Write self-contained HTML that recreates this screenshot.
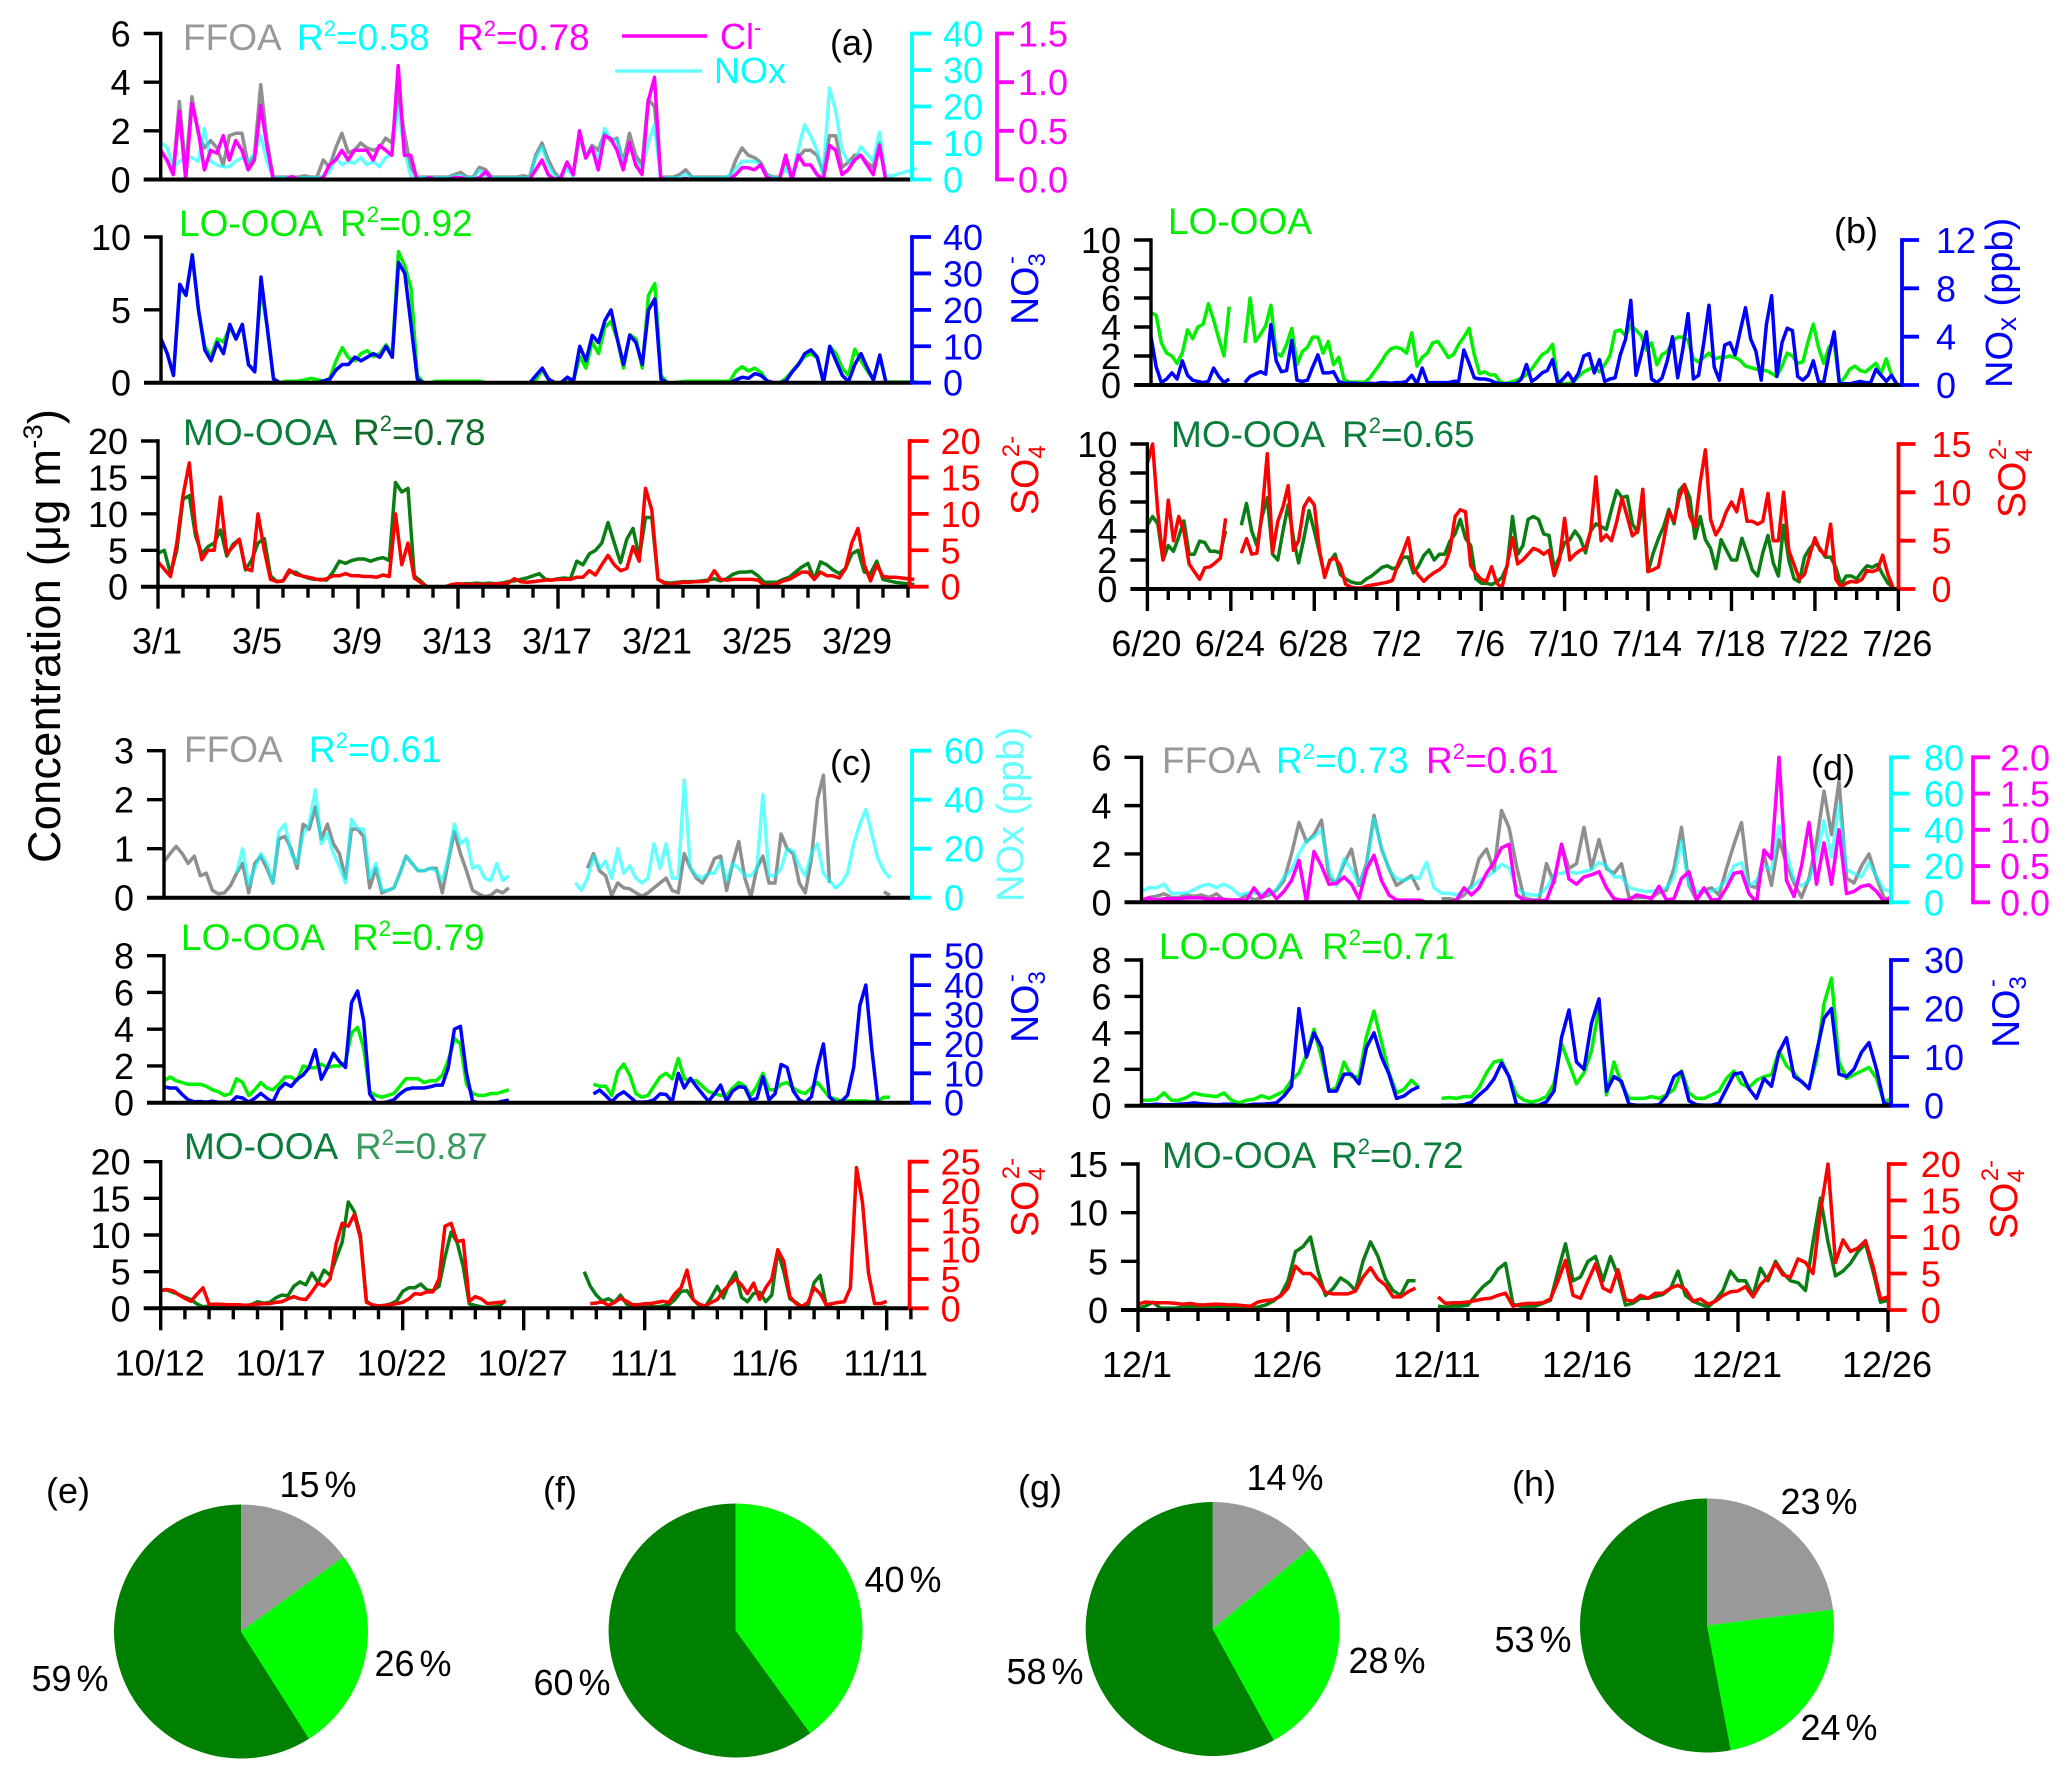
<!DOCTYPE html>
<html lang="en">
<head>
<meta charset="utf-8">
<title>Concentration time series and pie charts</title>
<style>
html,body{margin:0;padding:0;background:#fff}
svg{display:block;font-family:"Liberation Sans",Arial,sans-serif}
text{font-family:"Liberation Sans",Arial,sans-serif}
</style>
</head>
<body>
<svg id="figure" xmlns="http://www.w3.org/2000/svg" width="2067" height="1779" viewBox="0 0 2067 1779">
<rect width="2067" height="1779" fill="#fff"/>
<g id="plots"></g>
<g id="pies"></g>

<text transform="translate(60,863) rotate(-90)" font-size="45" letter-spacing=".3" fill="#000">Concentration (μg m<tspan dy="-18" font-size="27">-3</tspan><tspan dy="18">)</tspan></text>

<g font-size="37">
<text x="183" y="50" fill="#999">FFOA</text>
<text x="297" y="50" fill="#00ffff">R<tspan dy="-14" font-size="22">2</tspan><tspan dy="14">=0.58</tspan></text>
<text x="457" y="50" fill="#ff00ff">R<tspan dy="-14" font-size="22">2</tspan><tspan dy="14">=0.78</tspan></text>
<line x1="622" y1="36" x2="707" y2="36" stroke="#ff00ff" stroke-width="3.4"/>
<text x="720" y="49" fill="#ff00ff" font-size="36">Cl<tspan dy="-14" font-size="22">-</tspan></text>
<line x1="615" y1="71" x2="702" y2="71" stroke="#66ffff" stroke-width="3.4"/>
<text x="714" y="83" fill="#00ffff" font-size="36">NOx</text>
<text x="830" y="55" fill="#000" font-size="36">(a)</text>
<text x="179" y="236" fill="#00ee00">LO-OOA</text>
<text x="340" y="236" fill="#00ee00">R<tspan dy="-14" font-size="22">2</tspan><tspan dy="14">=0.92</tspan></text>
<text x="183" y="445" fill="#0a7d3c">MO-OOA</text>
<text x="353" y="445" fill="#0f6b2a">R<tspan dy="-14" font-size="22">2</tspan><tspan dy="14">=0.78</tspan></text>
<text transform="translate(1038,325) rotate(-90)" fill="#0000ff" font-size="39">NO<tspan dy="7" font-size="24">3</tspan><tspan dy="-26" dx="-11" font-size="24">-</tspan></text>
<text transform="translate(1038,515) rotate(-90)" fill="#ff0000" font-size="39">SO<tspan dy="7" font-size="24">4</tspan><tspan dy="-26" dx="-12" font-size="24">2-</tspan></text>
</g>

<g font-size="37">
<text x="1168" y="234" fill="#00ee00">LO-OOA</text>
<text x="1834" y="243" fill="#000" font-size="36">(b)</text>
<text transform="translate(2012,388) rotate(-90)" fill="#0000ff" font-size="38">NO<tspan font-size="28" dy="4">x</tspan><tspan dy="-4"> (ppb)</tspan></text>
<text x="1171" y="447" fill="#0a7d3c">MO-OOA</text>
<text x="1342" y="447" fill="#0a7d3c">R<tspan dy="-14" font-size="22">2</tspan><tspan dy="14">=0.65</tspan></text>
<text transform="translate(2025,518) rotate(-90)" fill="#ff0000" font-size="39">SO<tspan dy="7" font-size="24">4</tspan><tspan dy="-26" dx="-12" font-size="24">2-</tspan></text>
</g>

<g font-size="37">
<text x="184" y="762" fill="#999">FFOA</text>
<text x="309" y="762" fill="#00ffff">R<tspan dy="-14" font-size="22">2</tspan><tspan dy="14">=0.61</tspan></text>
<text x="830" y="775" fill="#000" font-size="36">(c)</text>
<text transform="translate(1023,902) rotate(-90)" fill="#66ffff" font-size="38">NOx (ppb)</text>
<text x="181" y="950" fill="#00ee00">LO-OOA</text>
<text x="352" y="950" fill="#00ee00">R<tspan dy="-14" font-size="22">2</tspan><tspan dy="14">=0.79</tspan></text>
<text transform="translate(1038,1043) rotate(-90)" fill="#0000ff" font-size="39">NO<tspan dy="7" font-size="24">3</tspan><tspan dy="-26" dx="-11" font-size="24">-</tspan></text>
<text x="184" y="1159" fill="#0a7d3c">MO-OOA</text>
<text x="355" y="1159" fill="#3a9a60">R<tspan dy="-14" font-size="22">2</tspan><tspan dy="14">=0.87</tspan></text>
<text transform="translate(1038,1237) rotate(-90)" fill="#ff0000" font-size="39">SO<tspan dy="7" font-size="24">4</tspan><tspan dy="-26" dx="-12" font-size="24">2-</tspan></text>
</g>

<g font-size="37">
<text x="1162" y="773" fill="#999">FFOA</text>
<text x="1276" y="773" fill="#00ffff">R<tspan dy="-14" font-size="22">2</tspan><tspan dy="14">=0.73</tspan></text>
<text x="1426" y="773" fill="#ff00ff">R<tspan dy="-14" font-size="22">2</tspan><tspan dy="14">=0.61</tspan></text>
<text x="1811" y="780" fill="#000" font-size="36">(d)</text>
<text x="1159" y="959" fill="#00ee00">LO-OOA</text>
<text x="1322" y="959" fill="#00ee00">R<tspan dy="-14" font-size="22">2</tspan><tspan dy="14">=0.71</tspan></text>
<text transform="translate(2019,1048) rotate(-90)" fill="#0000ff" font-size="39">NO<tspan dy="7" font-size="24">3</tspan><tspan dy="-26" dx="-11" font-size="24">-</tspan></text>
<text x="1162" y="1168" fill="#0a7d3c">MO-OOA</text>
<text x="1331" y="1168" fill="#0a7d3c">R<tspan dy="-14" font-size="22">2</tspan><tspan dy="14">=0.72</tspan></text>
<text transform="translate(2017,1239) rotate(-90)" fill="#ff0000" font-size="39">SO<tspan dy="7" font-size="24">4</tspan><tspan dy="-26" dx="-12" font-size="24">2-</tspan></text>
</g>

<g font-size="36" fill="#000" word-spacing="-5">
<text x="46" y="1503">(e)</text>
<text x="543" y="1502">(f)</text>
<text x="1018" y="1500">(g)</text>
<text x="1512" y="1496">(h)</text>
<g text-anchor="middle">
<text x="318" y="1497">15 %</text>
<text x="413" y="1676">26 %</text>
<text x="70" y="1691">59 %</text>
<text x="903" y="1592">40 %</text>
<text x="572" y="1695">60 %</text>
<text x="1285" y="1490">14 %</text>
<text x="1387" y="1673">28 %</text>
<text x="1045" y="1684">58 %</text>
<text x="1819" y="1514">23 %</text>
<text x="1839" y="1740">24 %</text>
<text x="1533" y="1652">53 %</text>
</g>
</g>
</svg>

<script>
const a_ffoa=[1.2,.8,.3,3.2,.4,3.4,1.9,1.3,1.6,1.3,.6,1.8,1.9,1.9,.6,1.0,3.9,1.6,.1,.1,.1,.1,.1,.15,.1,.1,.8,.5,1.3,1.9,1.1,1.2,1.5,1.3,1.2,1.3,1.7,1.5,3.5,1.9,.5,.1,.1,.1,.1,.1,.1,.2,.3,.1,.1,.5,.4,.1,.1,.1,.1,.1,.15,.1,1.0,1.5,.8,.3,0,.7,.2,1.8,.9,1.4,1.2,1.9,1.6,1.7,.7,1.9,1.0,.6,3.3,3.0,.1,.1,.1,.2,.4,.1,.1,.1,.1,.1,.1,.1,.8,1.3,1.0,.9,.7,.2,.1,.1,.8,.1,.9,1.2,1.2,1.0,.3,1.8,1.8,.5,.7,1.0,1.0,.7,.5,1.5,0,0,0,0,0,0];
const a_nox=[10,9,3,5,6,6,5,14,5,4,3.5,3.5,5,6,5,7,12,5,.5,.5,.5,.3,.3,.5,.5,.5,1,2,6,4,5,4.5,6,4,5,3.5,6,7,20,8,1,.5,.5,.5,.5,.5,.5,1,1,.5,.5,2.5,1,.5,.5,.5,.5,.5,.5,.5,6,9,4,1,.3,3,1,12,6,9,5,14,11,11,4,10,5,3,10,15,.5,.5,.5,.5,1.5,.5,.5,.5,.5,.5,.5,1,3,5,5,5,4,1,.5,.5,3,.5,8,15,12,8,1,25,19,8,5,5,9,7,5,13,1,1,1.5,2,2.5,3];
const a_cl=[.3,.2,.05,.7,0,.78,.5,.1,.3,.27,.45,.2,.4,.3,.1,.2,.76,.35,0,0,0,.03,0,0,0,0,.02,.15,.2,.3,.2,.3,.3,.3,.2,.35,.3,.25,1.17,.25,.25,0,0,.02,0,0,0,.02,.02,0,0,.02,.08,0,0,0,0,0,0,0,.1,.2,.05,0,.02,.18,.05,.5,.22,.33,.1,.45,.42,.3,.1,.38,.15,.05,.8,1.05,.02,0,0,0,.01,0,0,0,0,0,0,0,.05,.12,.12,.1,.15,.02,0,0,.25,0,.25,.15,.15,.05,0,.35,.3,.05,.1,.2,.25,.15,.05,.35,0,0,0,0,0,0];
const a_lo=[3,2,.5,6.5,6,8.8,5,2.5,1.8,3,2.8,3.8,3,4,1.2,.9,6.5,3.8,.3,0,.1,.1,.1,.2,.3,.2,.1,.3,1.5,2.4,1.7,1.5,2,2.2,1.8,2,2.6,2,9,8,6.5,.5,0,0,.1,.1,.1,.1,.1,.1,.1,.1,0,0,0,0,0,0,0,0,.2,.9,.2,0,0,.3,.1,1.8,1,2.8,2,3.8,4.2,3,1,3.3,3,1,6,6.8,.5,0,0,.05,.1,.1,.1,.1,.1,.1,.1,.1,.8,1.1,.8,1,.7,.1,0,0,.3,.8,1.3,1.8,2,1.7,.1,2.5,2,1,.5,2.3,1.5,.8,.2,1.8,.05,.05,.05,.05,.05,.05];
const a_no3=[12,8,2,27,24,35,20,9,6,11,8,16,12,16,5,3,29,15,1,0,0,0,0,0,0,0,.5,1,3.5,5,5,7,6,7,8,7,10,7,33,30,16,1,0,0,0,0,0,0,0,0,0,0,0,0,0,0,0,0,0,0,2,4,1,0,0,1.5,.5,10,6,13,11,17,20,12,5,13,11,5,20,23,1,0,0,0,0,0,0,0,0,0,0,0,.8,1.5,1.2,2.5,2,.5,0,0,.5,3,5,8,9,7,0,10,6,2,.3,5,8,4,.7,7.6,0,0,0,0,0,0];
const a_mo=[4.6,5,1.8,5,12,12.5,7,4.5,5.5,6,7.8,4.2,5.8,6.5,2.3,3.7,6,6.6,1.5,.7,.8,2,2,1.5,1.2,1,1,.9,2,3.5,3.2,3.6,3.8,3.8,3.5,3.8,4,3.6,14.3,13,13.5,1.5,.8,0,0,0,0,.2,.3,.4,.4,.5,.4,.5,.4,.5,.7,.8,1,1.2,1.5,1.8,1,.9,1.1,1.2,1.1,3.5,3,4.5,5,6,8.8,6,3.3,6.5,8,4,9.5,9.5,1,.6,.5,.6,.7,.7,.7,.8,.9,1.1,.8,1.1,1.7,2,2,2.1,1.5,.6,.6,.6,1,1.3,2,2.7,3.2,1,3.4,3,2.3,1.8,2.5,4.5,5,2,1.8,3.5,1,.8,.6,.5,.4,.3];
const a_so4=[3.4,2.4,1.4,6,12.5,17,8,3.7,5,5,12.3,4.5,5.5,6.5,2.5,2.2,10,5,1,.7,.8,2.3,1.7,1.5,1.3,1.1,.9,1.1,1.5,1.5,1.8,1.5,1.5,1.4,1.4,1.3,1.6,1.4,10,3,6,1.2,.6,0,0,0,0,.3,.4,.3,.3,.3,.3,.3,.4,.4,.5,1.1,.7,.6,.7,.8,.9,.9,1,1,1,1.3,1.3,2.2,1.6,3,4.3,3,2.2,2.5,5.5,3.5,13.5,10.5,1,.5,.3,.5,.6,.6,.7,.7,.8,2.2,1,.9,1,1,1,1,.9,.2,.2,.4,.8,1,1.5,2,2,1,2,1.5,1.5,1.2,2.5,6,8,3,.8,3,1.4,1.3,1.3,1.2,1.1,1];

const b_lo=[5,4.8,2.9,2.2,2,1.5,2.2,3.8,3.2,4,4.2,5.6,4.5,3.2,2,5.4,null,null,2.9,6,3,3.5,4.1,5.5,2.2,2,2.8,3.9,1.4,2.3,2.6,3.3,3.3,2.2,3,1.4,1.9,.4,.2,.2,.2,.2,.5,1,1.5,2.1,2.5,2.6,2.5,2.2,3.6,1.3,1.9,2.2,2.9,3,2.5,1.9,2.1,2.8,3.3,3.9,2.1,.8,.9,.7,.7,.2,.1,.2,.3,.5,.7,1.1,1.6,2.1,2.3,2.8,.3,.1,.1,.2,.6,.9,1.1,1.2,.9,1.4,2,3.7,3.8,3.4,4.1,3.8,3.4,2.4,2.9,1.4,2.1,2.3,3,3.3,3.3,3.1,1.8,1.6,1.9,2.2,1.8,1.9,1.9,2,1.9,1.7,1.3,1.2,1.1,1,1,.8,.6,1.3,2.2,2,1.5,1.6,3,4.2,2.6,1.5,2.6,2.9,.1,.5,1.1,1.3,1,.9,1.2,1.5,.8,1.8,.7,0];
const b_nox=[4,1.5,.2,.5,1,.5,2,.8,.4,.3,.2,.3,1.4,.7,.2,.5,null,null,.2,.7,.9,1.1,.9,5,2,1.1,1.2,3.7,.4,.3,.4,1.5,2.5,1,1,1.1,.3,.15,.15,.15,.1,.1,.15,.1,.2,.2,.15,.2,.2,.3,.8,.1,1.4,.2,.2,.2,.2,.2,.3,.3,2.9,1.8,.6,.5,.5,.4,.2,.1,.1,.1,.1,.5,1.7,.3,.6,1,1.2,2.1,.1,.5,1,.3,1,2.4,2.6,1,2.1,.3,.5,.6,2.5,3.8,7,.8,2.5,4.4,.5,.2,.6,2,4,.6,3,5.9,.5,.8,3.5,6.6,1.5,.4,3.3,3.5,2.5,4.5,6.4,3.8,2.8,.4,5,7.4,.7,3.5,4.7,4.5,.7,.4,.8,2,.3,.2,2.5,4.4,.1,.1,.1,.2,.3,.2,.2,1.3,.8,.3,.8,.1];
const b_mo=[4.4,5,4.5,2,3,2.6,3.6,4.7,2.4,2.4,3.3,3.2,2.6,2.6,2.5,4,null,null,4.4,5.9,4,3,5,6.3,2.4,2,4,5.8,3.5,1.8,3.5,5.4,4,2.5,.9,1.9,2.4,1,.7,.5,.4,.4,.7,.9,1.2,1.5,1.6,1.4,1.5,2.2,2.2,1.1,1.6,2.3,2.7,2,2.4,2.4,3.3,3.8,4.8,3.5,3,.7,.4,.4,.3,.5,.8,1.6,5,2.4,3,4.8,5,4.8,3.8,3.7,1.4,2.2,3.2,3.4,4,3.5,2.5,4,4.5,4.3,4.1,5.5,6.8,6.3,6.4,4.5,3.9,6,1.2,2.5,3.5,4.3,5.5,4.5,6.8,7.2,6.3,3.5,5,3.4,2.8,1.4,3.4,2.7,2,2,3.5,2.5,1.3,.9,2.5,3.7,1.8,.9,4.4,2,.7,.5,2.2,2.8,3.2,2.8,2.2,2.2,1.5,.3,.9,.9,.7,1.2,1.6,1.5,1.7,1,.4,.1];
const b_so4=[13,15,8,3,9.2,5,7.5,6,2.6,1.8,1,2.2,2.3,2.7,3.2,7.3,null,null,3.7,5.2,3.6,3.7,8,14,3.8,7,8.5,10.7,4,5,8.5,9.4,8.7,4,1.2,3,3.2,2.4,.5,.2,.1,.1,.3,.4,.5,.6,.7,.9,2.5,3.8,5.3,2.2,1.4,.8,1.3,1.7,2,2.5,4,7.5,8.2,8,2.4,1.6,1,.8,2.3,.6,.1,2.5,5.3,2.6,3,3.6,4.2,4,3.6,4,1.4,3,7.3,3,3.6,4,4.2,6,11.6,5,5.6,5,7,9.4,7.5,5.5,6,10.3,1.8,2,2.3,5,8,7,9.5,10.8,7.5,6.4,11,14.4,7.2,5.6,6.5,8,9,8,10.3,7,7,6.7,7,9.9,5,5,10,4,2.5,1,1.5,3.5,5.3,4,3.5,6.7,1,.2,.6,.8,.7,1,1.9,1.8,2,3.5,1.5,.1];

const c_ffoa=[.73,.9,1.05,.9,.7,.85,.45,.5,.15,.08,.1,.25,.5,.7,.1,.7,.85,.6,.3,1.2,1.25,1,.6,1.5,1.4,1.85,1.2,1.5,1.1,.9,.4,1.4,1.4,1.25,.2,.6,.1,.15,.2,.5,.85,.7,.55,.55,.6,.6,.1,.75,1.35,.9,.55,.15,.08,.02,.05,.15,.1,.2,null,null,null,null,null,null,null,null,null,null,null,null,.6,.9,.55,.45,.05,.3,.2,.18,.1,.03,.1,.2,.3,.4,.15,.1,.9,.6,.4,.3,.5,.8,.85,.15,.7,1.15,.4,.02,.6,.85,.3,.3,1.3,1,.9,.3,.1,.8,2,2.5,.3,null,null,null,null,null,null,null,null,.12,.05];
const c_nox=[null,null,0,0,0,0,0,0,0,0,0,null,10,20,5,12,18,14,6,27,30,18,14,26,30,44,22,26,18,13,6,32,28,28,8,14,3,3,4,10,17,14,11,11,12,11,7,16,30,22,24,12,13,8,7,14,7,9,null,null,null,null,null,null,null,null,null,null,6,3,8,17,12,15,8,20,10,13,8,6,8,22,12,22,8,8,48,12,9,8,10,10,15,7,14,12,9,9,12,42,9,9,12,20,19,13,9,18,22,10,7,4,6,10,22,30,36,26,16,11,8];
const c_lo=[1.2,1.4,1.2,1.1,1,1,1,.9,.7,.6,.4,.5,1.3,1.1,.4,.7,1.1,.8,.7,1,1.4,1.4,1.2,2,1.9,1.9,2.1,1.9,2,2,2.2,3.8,4.1,3,.6,.4,.3,.4,.5,.9,1.3,1.3,1.3,1.1,1.2,1.2,1.5,2.3,3.5,3.2,1,.5,.4,.4,.5,.5,.6,.7,null,null,null,null,null,null,null,null,null,null,null,null,null,1,.9,.9,.4,1.7,2.1,1.5,.5,.3,.4,.9,1.4,1.6,1.3,2.4,1.3,1.2,1.2,.9,.6,.5,.4,.4,.8,1.1,.9,.4,.9,1.6,.7,.7,1,1.1,.8,.6,.5,.8,1.1,.7,.3,.2,.1,.1,.1,.1,.1,.05,.1,.3,.3];
const c_no3=[5.4,5,5,2.8,1,.3,.4,.2,.5,.1,.1,.1,2,1.6,.2,1.5,3.2,1.5,.2,4.5,6.6,5.5,8,9.4,12,18,8,12,16.8,14,12,34,38,28,3,0,0,.3,1,3,4.5,5,5,5,5.4,6,6,12,25,26,10,.5,0,0,0,0,.5,.9,null,null,null,null,null,null,null,null,null,null,null,null,null,3,4.3,2.5,.3,2.5,3.7,2,.2,.2,.3,1,3,2.8,.3,10,5,8.3,5.5,3,.5,3,6,.5,4,5.4,5.2,.8,1.5,8.8,1,3,13,12,4,1,0,2,12,20,2,0,.5,2.6,12,33,40,18,0];
const c_mo=[2.5,2.5,2.2,1.9,1.5,1.2,.6,.2,.3,.3,.3,.3,.3,.3,.3,.5,.9,.7,.8,1.4,1.8,1.7,3,3.6,3.2,4.8,3.5,5.2,4.5,6.8,9,14.5,13.2,10,1,.4,.3,.4,.6,1,2.3,2.8,2.8,3.3,2.5,2.4,3,7,10.4,9,5.7,.6,.4,.2,.1,.2,.3,1.1,null,null,null,null,null,null,null,null,null,null,null,null,5,3,1.8,1,1.3,.8,1.8,.6,.2,.2,.2,.2,.2,.3,.5,1.2,2.3,2.4,1.2,.4,.2,1.5,3,1.4,3.5,4.9,1.5,.9,2,2.2,.9,1.8,7.8,5,1.3,.8,.2,.3,3.5,4.5,.4,.1,.1,.1,.1,.1,.1,.1,.05,.1,.2];
const c_so4=[3,3.2,3,2.3,1.7,1.2,2.4,3.5,.7,.7,.7,.6,.6,.6,.5,.6,.7,.8,.8,1,1.1,1.6,2,1.6,1.5,2.8,4.3,3.8,5,11,14.5,14,16,12,1,.6,.4,.5,.6,.8,1,1.6,2.5,2.4,2.8,2.8,5,14,14.5,11.4,11.6,1.2,2,1.6,.8,.9,1,1.1,null,null,null,null,null,null,null,null,null,null,null,null,null,.8,.9,1.1,.5,1,1.7,1.2,.6,.6,.8,.8,1,1.2,1,2.5,3.5,6.5,1.5,.7,.4,1,1.5,3,4,5,4,2.5,4.3,1.5,3.5,5,10,8,2,.8,.3,1,3.5,2.5,.6,.8,1,1.1,3.5,24,18,6,.8,.8,1.2];

const d_ffoa=[.1,.2,.25,.35,.2,.2,.3,.25,.3,.2,.35,.1,.1,.1,.3,.1,.2,.3,.5,.9,2,3.3,2.5,2.8,3.4,1,.8,1.6,2.2,.7,1.6,3.6,2.2,1.4,.7,.9,1.1,.5,null,null,.15,.15,.1,.3,.7,1.8,2.2,1.3,3.8,3.1,1.5,.2,.1,.1,1.6,.8,2.4,1.4,1.6,3.1,1.4,2.6,1.4,1.2,1.6,.2,.2,.2,.2,.4,.5,1.4,3.1,.7,.1,.5,.6,.3,1.4,2.4,3.3,.7,.6,2,.7,2.6,1.6,.8,.2,1,2.5,4.6,2.8,5,1,.8,1.5,2,1,.2,.1];
const d_nox=[6,8,8,10,5,5,5,7,9,10,8,10,8,4,5,5,5,5,7,14,18,27,34,36,40,18,9,24,18,10,20,46,30,18,13,12,14,13,22,8,5,5,4,6,8,12,14,17,21,19,8,5,4,4,8,15,16,17,16,17,18,22,20,14,14,8,7,6,6,7,8,14,34,9,6,6,6,8,12,20,22,9,12,20,18,42,28,12,9,12,25,45,25,54,18,16,14,22,14,7,6];
const d_cl=[.03,.06,.03,.05,.05,.05,.06,.06,.06,.04,.05,.04,.03,.03,.03,.2,.06,.18,.05,.15,.3,.58,0,.7,.5,.25,.26,.35,.25,.05,.45,.65,.3,.1,.03,.03,.03,.03,0,0,0,0,.03,.2,.1,.2,.4,.55,.75,.8,.1,.03,.02,.02,.03,.3,.8,.32,.25,.35,.38,.42,.2,.05,.03,.03,.1,.08,.05,.22,.03,.05,.33,.42,.03,.2,.03,.04,.2,.4,.42,.12,0,.72,.6,2,.3,.08,.5,1.1,.25,.82,.25,1,.12,.15,.22,.24,.15,.01,.08];
const d_lo=[.3,.3,.35,.7,.3,.3,.45,.7,.6,.55,.5,.7,.3,.15,.3,.35,.55,.4,.6,.8,1.4,1.8,2.8,4.2,2.6,.8,1,2.4,1.6,1.6,3.8,5.2,3.5,1.8,.7,.9,1.4,1,null,null,.4,.45,.4,.5,.5,1,1.8,2.4,2.5,1.6,.6,.3,.2,.3,.5,1.2,3.4,2.3,1.2,1.8,3,5.4,.6,2.4,1.2,.4,.4,.4,.5,.4,.6,.9,1.9,.7,.4,.4,.6,.8,1.5,1.9,1.2,1,1.4,1.6,1.7,3,2.2,1.8,1.3,1,2.5,5.6,7,2.4,1.5,1.7,1.9,2.1,1.5,.2,.4];
const d_no3=[.2,.2,.3,.2,.2,.3,.4,.6,.4,.3,.2,.3,.3,.1,.1,.3,.3,.4,.6,2,4,20,10,15,12,3,3,6.5,6.5,4.5,12,15,10,6.5,1.5,2,3.2,3.9,null,null,.1,.1,.1,.2,.7,2.2,3.5,5.5,8.8,6,.2,.1,.1,.1,.8,3,14,19.7,9,7.5,17,22,3,6,5,.3,.1,.1,.1,.2,2,6,7,1,.2,.1,.1,.5,3.5,6.5,6.8,3.5,1.5,5.6,4,11,14,6,5,3.5,11,18,20,6.5,6,7.5,11,13,7.5,.5,.2];
const d_mo=[.2,.4,.8,.2,.2,.2,.3,.4,.3,.3,.3,.3,.2,.2,.2,.2,.3,.5,.9,1.5,3,6,6.5,7.5,4,1.5,2.2,3.3,2.8,2,5,7,5.5,3.2,2,1.5,3,3,null,null,.4,.3,.4,.4,.5,1.5,2.4,3,4.2,4.8,.6,.4,.4,.4,.7,1,4,6.8,3,3.4,5,5.5,3,5.5,3.5,.5,.7,1.2,1.2,1.4,1.6,2.2,4,1.5,.9,.6,.3,1,2,4,3,3,1.5,4.3,3,5,3.8,3,2.8,2,7,11.5,7,3.5,4,4.8,6,6.8,4,.8,1];
const d_so4=[.8,1.1,1,1,1,.9,.8,.9,.7,.7,.8,.8,.7,.7,.6,.5,1.1,1.3,1.4,1.9,3,6,5,5,4,2.4,2.2,2.2,2.2,2.6,4.5,5.8,4.2,3.4,1.8,1.8,2.5,3,null,null,1.8,.9,1,1,1.1,1.3,1.5,1.6,2,2.3,.5,.8,.9,.9,1,1.5,4,6.8,2,1.6,4,6.3,3,2.5,5.5,1.4,1.2,2,1.6,2.3,2.3,3,3.4,2.8,1.2,1.5,.8,1.2,2,2.5,2.6,3.2,1.8,3.5,4.5,6.4,4.8,4.5,7,6.5,5,13.5,20,6.5,9.6,8,8.5,9.5,6,1.5,1.8];

// ---- axis tick labels ----
const ticks_ffoa_a=['0','2','4','6'];
const ticks_nox_a=['0','10','20','30','40'];
const ticks_cl_a=['0.0','0.5','1.0','1.5'];
const ticks_lo_a=['0','5','10'];
const ticks_no3_a=['0','10','20','30','40'];
const ticks_mo_a=['0','5','10','15','20'];
const ticks_so4_a=['0','5','10','15','20'];
const ticks_lo_b=['0','2','4','6','8','10'];
const ticks_nox_b=['0','4','8','12'];
const ticks_mo_b=['0','2','4','6','8','10'];
const ticks_so4_b=['0','5','10','15'];
const ticks_ffoa_c=['0','1','2','3'];
const ticks_nox_c=['0','20','40','60'];
const ticks_lo_c=['0','2','4','6','8'];
const ticks_no3_c=['0','10','20','30','40','50'];
const ticks_mo_c=['0','5','10','15','20'];
const ticks_so4_c=['0','5','10','15','20','25'];
const ticks_ffoa_d=['0','2','4','6'];
const ticks_nox_d=['0','20','40','60','80'];
const ticks_cl_d=['0.0','0.5','1.0','1.5','2.0'];
const ticks_lo_d=['0','2','4','6','8'];
const ticks_no3_d=['0','10','20','30'];
const ticks_mo_d=['0','5','10','15'];
const ticks_so4_d=['0','5','10','15','20'];
const dates_a=['3/1','3/5','3/9','3/13','3/17','3/21','3/25','3/29'];
const dates_b=['6/20','6/24','6/28','7/2','7/6','7/10','7/14','7/18','7/22','7/26'];
const dates_c=['10/12','10/17','10/22','10/27','11/1','11/6','11/11'];
const dates_d=['12/1','12/6','12/11','12/16','12/21','12/26'];
const samplesPerDay=4;

// ---- pie shares (FFOA, LO-OOA, MO-OOA) ----
const pie_e=[15,26,59];
const pie_f=[0,40,60];
const pie_g=[14,28,58];
const pie_h=[23,24,53];

// ---- rendering ----
const NS='http://www.w3.org/2000/svg';
const GREY='#8f8f8f',NOXC='rgba(0,255,255,.6)',CYAN='#00ffff',MAG='#ff00ff',LIME='#00f000',BLUE='#0000ff',DKG='#0a7d14',RED='#ff0000';

function tickLine(parent,x1,y1,x2,y2,color,w,name){
  const el=document.createElementNS(NS,'line');
  el.setAttribute('x1',x1);el.setAttribute('y1',y1);el.setAttribute('x2',x2);el.setAttribute('y2',y2);
  el.setAttribute('stroke',color);el.setAttribute('stroke-width',w);
  
  
  parent.appendChild(el);
}
function label(parent,x,y,str,color,anchor,name){
  const el=document.createElementNS(NS,'text');
  el.setAttribute('x',x);el.setAttribute('y',y);el.setAttribute('fill',color);
  el.setAttribute('font-size','36');el.setAttribute('text-anchor',anchor);
  el.textContent=str;
  
  
  parent.appendChild(el);
}
function drawSeries(parent,values,xOf,yOf,color,name){
  let d='',pen=false;
  values.forEach(function(v,i){
    if(v===null){pen=false;return;}
    d+=(pen?'L':'M')+xOf(i/samplesPerDay).toFixed(1)+' '+yOf(v).toFixed(1);
    pen=true;
  });
  const el=document.createElementNS(NS,'path');
  el.setAttribute('d',d);el.setAttribute('fill','none');el.setAttribute('stroke',color);
  el.setAttribute('stroke-width','3.5');el.setAttribute('stroke-linejoin','round');
  
  
  parent.appendChild(el);
}
function numeric(list){return parseFloat(list[list.length-1]);}

function subplot(cfg){
  const g=document.createElementNS(NS,'g');
  
  
  document.getElementById('plots').appendChild(g);
  const xOf=function(day){return cfg.x0+day*cfg.pxPerDay;};
  const H=cfg.bottom-cfg.top;
  const rightEnd=cfg.rights[0].x;

  cfg.series.forEach(function(s){
    const max=numeric(s.axis);
    const yOf=function(v){return cfg.bottom-v/max*H;};
    drawSeries(g,s.values,xOf,yOf,s.color,s.name);
  });

  tickLine(g,cfg.x0,cfg.top-1.7,cfg.x0,cfg.bottom,'#000',3.4,'left-axis');
  const lmax=numeric(cfg.left);
  cfg.left.forEach(function(t){
    const y=cfg.bottom-parseFloat(t)/lmax*H;
    if(parseFloat(t)>0)tickLine(g,cfg.x0-17,y,cfg.x0,y,'#000',3.4,'left-axis-tick');
    label(g,cfg.x0-30,y+13,t,'#000','end','left-axis-label');
  });
  tickLine(g,cfg.x0-17,cfg.bottom,rightEnd,cfg.bottom,'#000',4,'x-axis-line');

  cfg.rights.forEach(function(r){
    tickLine(g,r.x,cfg.top-1.9,r.x,cfg.bottom+1.9,r.color,3.8,'right-axis');
    const rmax=numeric(r.ticks);
    r.ticks.forEach(function(t){
      const y=cfg.bottom-parseFloat(t)/rmax*H;
      tickLine(g,r.x,y,r.x+r.tick,y,r.color,3.8,'right-axis-tick');
      label(g,r.x+r.gap,y+13,t,r.color,'start','right-axis-label');
    });
  });

  if(cfg.dates){
    for(let day=0;day<=cfg.days;day++){
      const major=day%cfg.every===0;
      tickLine(g,xOf(day),cfg.bottom,xOf(day),cfg.bottom+(major?22:11),'#000',3.4,major?'x-major-tick':'x-minor-tick');
    }
    cfg.dates.forEach(function(t,i){
      label(g,xOf(i*cfg.every)-1,cfg.bottom+67,t,'#000','middle','x-axis-label');
    });
  }
}

subplot({name:'panel-a-ffoa',x0:160.7,pxPerDay:25,top:33.5,bottom:179.5,left:ticks_ffoa_a,
  rights:[{x:912,color:CYAN,ticks:ticks_nox_a,tick:19,gap:31},{x:997,color:MAG,ticks:ticks_cl_a,tick:17,gap:21}],
  series:[{name:'ffoa-line',values:a_ffoa,axis:ticks_ffoa_a,color:GREY},{name:'nox-line',values:a_nox,axis:ticks_nox_a,color:NOXC},{name:'cl-line',values:a_cl,axis:ticks_cl_a,color:MAG}]});
subplot({name:'panel-a-lo-ooa',x0:161,pxPerDay:25,top:237,bottom:382.7,left:ticks_lo_a,
  rights:[{x:912,color:BLUE,ticks:ticks_no3_a,tick:19,gap:31}],
  series:[{name:'lo-ooa-line',values:a_lo,axis:ticks_lo_a,color:LIME},{name:'no3-line',values:a_no3,axis:ticks_no3_a,color:BLUE}]});
subplot({name:'panel-a-mo-ooa',x0:158,pxPerDay:25,top:441,bottom:586.7,left:ticks_mo_a,
  rights:[{x:909.6,color:RED,ticks:ticks_so4_a,tick:19,gap:31}],
  series:[{name:'mo-ooa-line',values:a_mo,axis:ticks_mo_a,color:DKG},{name:'so4-line',values:a_so4,axis:ticks_so4_a,color:RED}],
  dates:dates_a,days:30,every:4});

subplot({name:'panel-b-lo-ooa',x0:1151,pxPerDay:20.86,top:240,bottom:385,left:ticks_lo_b,
  rights:[{x:1902,color:BLUE,ticks:ticks_nox_b,tick:17,gap:34}],
  series:[{name:'lo-ooa-line',values:b_lo,axis:ticks_lo_b,color:LIME},{name:'nox-line',values:b_nox,axis:ticks_nox_b,color:BLUE}]});
subplot({name:'panel-b-mo-ooa',x0:1147.4,pxPerDay:20.86,top:444,bottom:589,left:ticks_mo_b,
  rights:[{x:1898.5,color:RED,ticks:ticks_so4_b,tick:17,gap:33}],
  series:[{name:'mo-ooa-line',values:b_mo,axis:ticks_mo_b,color:DKG},{name:'so4-line',values:b_so4,axis:ticks_so4_b,color:RED}],
  dates:dates_b,days:36,every:4});

subplot({name:'panel-c-ffoa',x0:164,pxPerDay:24.2,top:750.7,bottom:897.7,left:ticks_ffoa_c,
  rights:[{x:912,color:CYAN,ticks:ticks_nox_c,tick:19,gap:32}],
  series:[{name:'ffoa-line',values:c_ffoa,axis:ticks_ffoa_c,color:GREY},{name:'nox-line',values:c_nox,axis:ticks_nox_c,color:NOXC}]});
subplot({name:'panel-c-lo-ooa',x0:164,pxPerDay:24.2,top:955.7,bottom:1102.7,left:ticks_lo_c,
  rights:[{x:912,color:BLUE,ticks:ticks_no3_c,tick:19,gap:32}],
  series:[{name:'lo-ooa-line',values:c_lo,axis:ticks_lo_c,color:LIME},{name:'no3-line',values:c_no3,axis:ticks_no3_c,color:BLUE}]});
subplot({name:'panel-c-mo-ooa',x0:160.7,pxPerDay:24.2,top:1161.7,bottom:1308.3,left:ticks_mo_c,
  rights:[{x:909.6,color:RED,ticks:ticks_so4_c,tick:19,gap:31}],
  series:[{name:'mo-ooa-line',values:c_mo,axis:ticks_mo_c,color:DKG},{name:'so4-line',values:c_so4,axis:ticks_so4_c,color:RED}],
  dates:dates_c,days:31,every:5});

subplot({name:'panel-d-ffoa',x0:1141.5,pxPerDay:30,top:757.3,bottom:902.3,left:ticks_ffoa_d,
  rights:[{x:1891,color:CYAN,ticks:ticks_nox_d,tick:18,gap:33},{x:1973,color:MAG,ticks:ticks_cl_d,tick:17,gap:27}],
  series:[{name:'ffoa-line',values:d_ffoa,axis:ticks_ffoa_d,color:GREY},{name:'nox-line',values:d_nox,axis:ticks_nox_d,color:NOXC},{name:'cl-line',values:d_cl,axis:ticks_cl_d,color:MAG}]});
subplot({name:'panel-d-lo-ooa',x0:1141.5,pxPerDay:30,top:960,bottom:1105.7,left:ticks_lo_d,
  rights:[{x:1891,color:BLUE,ticks:ticks_no3_d,tick:18,gap:33}],
  series:[{name:'lo-ooa-line',values:d_lo,axis:ticks_lo_d,color:LIME},{name:'no3-line',values:d_no3,axis:ticks_no3_d,color:BLUE}]});
subplot({name:'panel-d-mo-ooa',x0:1138,pxPerDay:30,top:1164,bottom:1310,left:ticks_mo_d,
  rights:[{x:1888.7,color:RED,ticks:ticks_so4_d,tick:18,gap:32}],
  series:[{name:'mo-ooa-line',values:d_mo,axis:ticks_mo_d,color:DKG},{name:'so4-line',values:d_so4,axis:ticks_so4_d,color:RED}],
  dates:dates_d,days:25,every:5});

function drawPie(name,shares,cx,cy,r){
  const colors=['#999999','#00ff00','#008000'];
  const total=shares.reduce(function(a,b){return a+b;},0);
  let acc=0;
  shares.forEach(function(v,i){
    if(v<=0)return;
    const a0=acc/total*2*Math.PI;acc+=v;const a1=acc/total*2*Math.PI;
    const el=document.createElementNS(NS,'path');
    const large=(a1-a0)>Math.PI?1:0;
    el.setAttribute('d','M'+cx+' '+cy+'L'+(cx+r*Math.sin(a0)).toFixed(2)+' '+(cy-r*Math.cos(a0)).toFixed(2)+'A'+r+' '+r+' 0 '+large+' 1 '+(cx+r*Math.sin(a1)).toFixed(2)+' '+(cy-r*Math.cos(a1)).toFixed(2)+'Z');
    el.setAttribute('fill',colors[i]);
    
    
    document.getElementById('pies').appendChild(el);
  });
}
drawPie('pie-e',pie_e,241,1631.5,127);
drawPie('pie-f',pie_f,735.6,1630.5,127);
drawPie('pie-g',pie_g,1212.7,1629,127);
drawPie('pie-h',pie_h,1707,1625.5,127);
</script>
</body>
</html>
